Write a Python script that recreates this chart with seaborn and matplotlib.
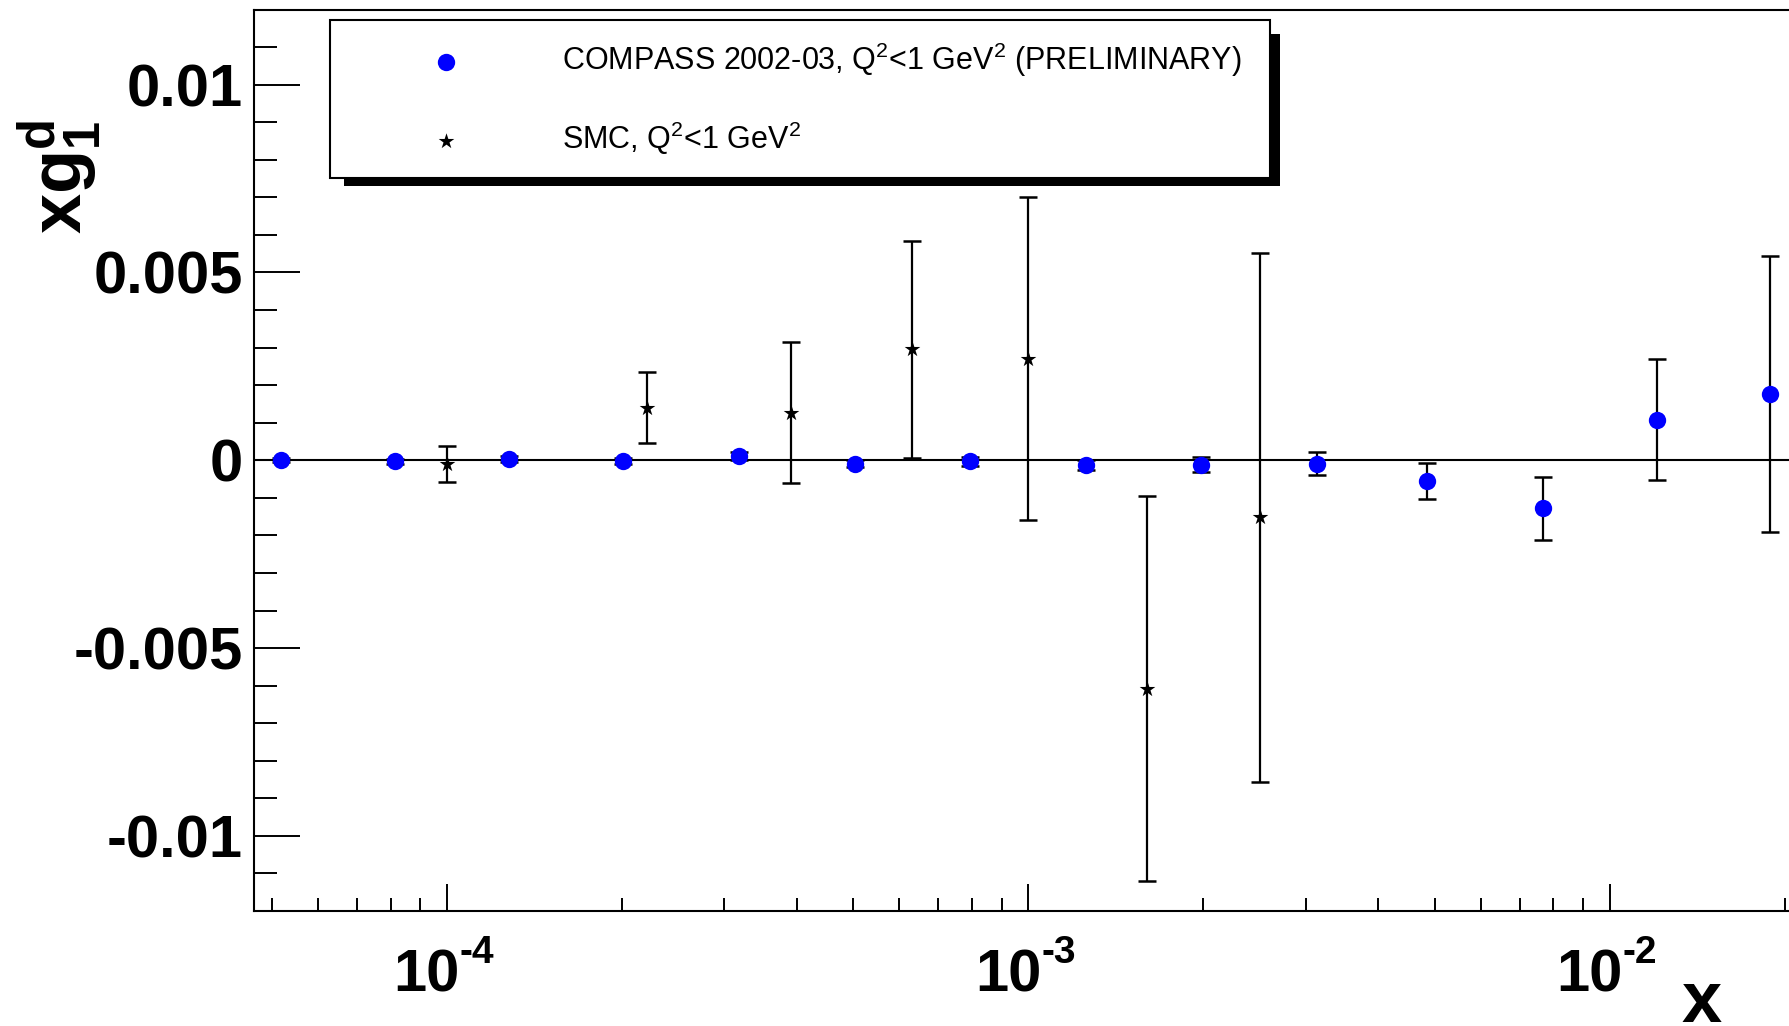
import numpy as np
import pandas as pd
import matplotlib
matplotlib.use("Agg")
import matplotlib.pyplot as plt
import matplotlib.transforms as mtransforms
from matplotlib.patches import Rectangle
from matplotlib.ticker import FixedLocator, NullFormatter, LogLocator, MultipleLocator
import seaborn as sns

# ---------------- data ----------------
compass_x = [5.18e-5, 8.14e-5, 1.28e-4, 2.01e-4, 3.18e-4, 5.04e-4, 7.93e-4,
             1.256e-3, 1.98e-3, 3.14e-3, 4.86e-3, 7.68e-3, 1.208e-2, 1.885e-2]
compass_y = [0.0, -0.00003, 0.00003, -0.00003, 0.00011, -0.00009, -0.00003,
             -0.00013, -0.00012, -0.00009, -0.00055, -0.00128, 0.00108, 0.00176]
compass_err = [0.00005, 0.00006, 0.00007, 0.00008, 0.0001, 0.0001, 0.00012,
               0.00014, 0.0002, 0.00031, 0.00049, 0.00084, 0.00161, 0.00368]

smc_x = [1.0e-4, 2.21e-4, 3.90e-4, 6.30e-4, 1.0e-3, 1.60e-3, 2.50e-3]
smc_y = [-0.0001, 0.0014, 0.00127, 0.00295, 0.0027, -0.00608, -0.00152]
smc_err = [0.00048, 0.00095, 0.00188, 0.0029, 0.0043, 0.00512, 0.00704]

compass_label = "COMPASS 2002-03, Q$^{2}$<1 GeV$^{2}$ (PRELIMINARY)"
smc_label = "SMC, Q$^{2}$<1 GeV$^{2}$"

yticks = [-0.01, -0.005, 0, 0.005, 0.01]
ytick_labels = ["-0.01", "-0.005", "0", "0.005", "0.01"]
xticks = [1e-4, 1e-3, 1e-2]
xtick_exps = ["-4", "-3", "-2"]
xlabel = "x"
ylabel = r"$\mathbf{xg_{1}^{d}}$"

# ---------------- style ----------------
W, H, DPI = 1789, 1026, 100
sns.set_theme(style="white")
plt.rcParams['font.family'] = ['Liberation Sans', 'DejaVu Sans']
plt.rcParams['mathtext.fontset'] = 'custom'
plt.rcParams['mathtext.rm'] = 'Liberation Sans'
plt.rcParams['mathtext.it'] = 'Liberation Sans:italic'
plt.rcParams['mathtext.bf'] = 'Liberation Sans:bold'
plt.rcParams['axes.unicode_minus'] = False
for k in ['text.color', 'axes.labelcolor', 'xtick.color', 'ytick.color',
          'axes.edgecolor', 'legend.labelcolor']:
    plt.rcParams[k] = 'black'

fig = plt.figure(figsize=(W / DPI, H / DPI), dpi=DPI)
fig.patch.set_facecolor('white')

ax_l, ax_r, ax_t, ax_b = 254, 1841, 9.5, 911
ax = fig.add_axes([ax_l / W, 1 - ax_b / H, (ax_r - ax_l) / W, (ax_b - ax_t) / H])
ax.set_facecolor('white')
ax.set_xscale('log')

df_c = pd.DataFrame({'x': compass_x, 'y': compass_y, 'err': compass_err})
df_s = pd.DataFrame({'x': smc_x, 'y': smc_y, 'err': smc_err})

ax.axhline(0, color='black', lw=1.5, zorder=1.5)

ax.errorbar(df_c['x'], df_c['y'], yerr=df_c['err'], fmt='none', ecolor='black',
            elinewidth=1.6, capsize=6.7, capthick=1.8, zorder=2)
ax.errorbar(df_s['x'], df_s['y'], yerr=df_s['err'], fmt='none', ecolor='black',
            elinewidth=1.6, capsize=6.7, capthick=1.8, zorder=2)

sns.scatterplot(data=df_c, x='x', y='y', ax=ax, color='#0000ff', marker='o',
                s=156, linewidth=0, zorder=4, label=compass_label)
sns.scatterplot(data=df_s, x='x', y='y', ax=ax, color='black', marker='*',
                s=140, linewidth=0, zorder=4, label=smc_label)

ax.set_xlim(4.656e-5, 0.025)
ax.set_ylim(-0.012, 0.012)
ax.set_xlabel('')
ax.set_ylabel('')

# spines
for s in ['left', 'top', 'bottom']:
    ax.spines[s].set_visible(True)
    ax.spines[s].set_linewidth(1.5)
    ax.spines[s].set_color('black')
ax.spines['right'].set_visible(False)

# y ticks
ax.set_yticks(yticks, labels=ytick_labels, fontsize=43, fontweight='bold',
              color='black')
ax.yaxis.set_minor_locator(MultipleLocator(0.001))
ax.tick_params(axis='y', which='major', direction='in', length=33, width=1.4,
               left=True, right=False, pad=8, colors='black')
ax.tick_params(axis='y', which='minor', direction='in', length=16.5, width=1.4,
               left=True, right=False, colors='black')

# x ticks
ax.xaxis.set_major_locator(FixedLocator(xticks))
ax.xaxis.set_minor_locator(LogLocator(base=10, subs=np.arange(2, 10), numticks=30))
ax.xaxis.set_major_formatter(NullFormatter())
ax.xaxis.set_minor_formatter(NullFormatter())
ax.tick_params(axis='x', which='major', direction='in', length=19.4, width=1.4,
               bottom=True, top=False, colors='black')
ax.tick_params(axis='x', which='minor', direction='in', length=9.4, width=1.4,
               bottom=True, top=False, colors='black')

trans_lbl = mtransforms.blended_transform_factory(ax.transData, fig.transFigure)
off = mtransforms.ScaledTranslation(13 / DPI, 0, fig.dpi_scale_trans)
for xv, ex in zip(xticks, xtick_exps):
    ax.text(xv, 1 - 992 / H, "10", transform=trans_lbl + off, ha='right',
            va='baseline', fontsize=43, fontweight='bold', color='black',
            clip_on=False)
    ax.text(xv, 1 - 963 / H, ex, transform=trans_lbl + off, ha='left',
            va='baseline', fontsize=28, fontweight='bold', color='black',
            clip_on=False)

fig.text(1702 / W, 1 - 1022 / H, xlabel, ha='center', va='baseline',
         fontsize=52, fontweight='bold', color='black')
fig.text(81.7 / W, 1 - 120 / H, ylabel, rotation=90, rotation_mode='anchor',
         ha='right', va='baseline', fontsize=52, color='black')

# legend with ROOT-like shadow
leg = ax.legend(loc='upper left',
                bbox_to_anchor=(330 / W, 1 - 175.7 / H, 940 / W, 155.7 / H),
                bbox_transform=fig.transFigure, mode='expand', borderaxespad=0,
                frameon=True, fancybox=False, edgecolor='black', framealpha=1,
                facecolor='white', fontsize=22, borderpad=0.68, labelspacing=1.33,
                handlelength=6.26, handletextpad=0.65, scatterpoints=1)
leg.get_frame().set_linewidth(1.5)
leg.set_zorder(6)
for t in leg.get_texts():
    t.set_color('black')
ax.add_artist(Rectangle((344 / W, 1 - 186 / H), (1280 - 344) / W, (186 - 34) / H,
                        transform=fig.transFigure, facecolor='black',
                        edgecolor='none', zorder=5.5, clip_on=False))

fig.savefig("out.png", dpi=DPI, facecolor='white')
